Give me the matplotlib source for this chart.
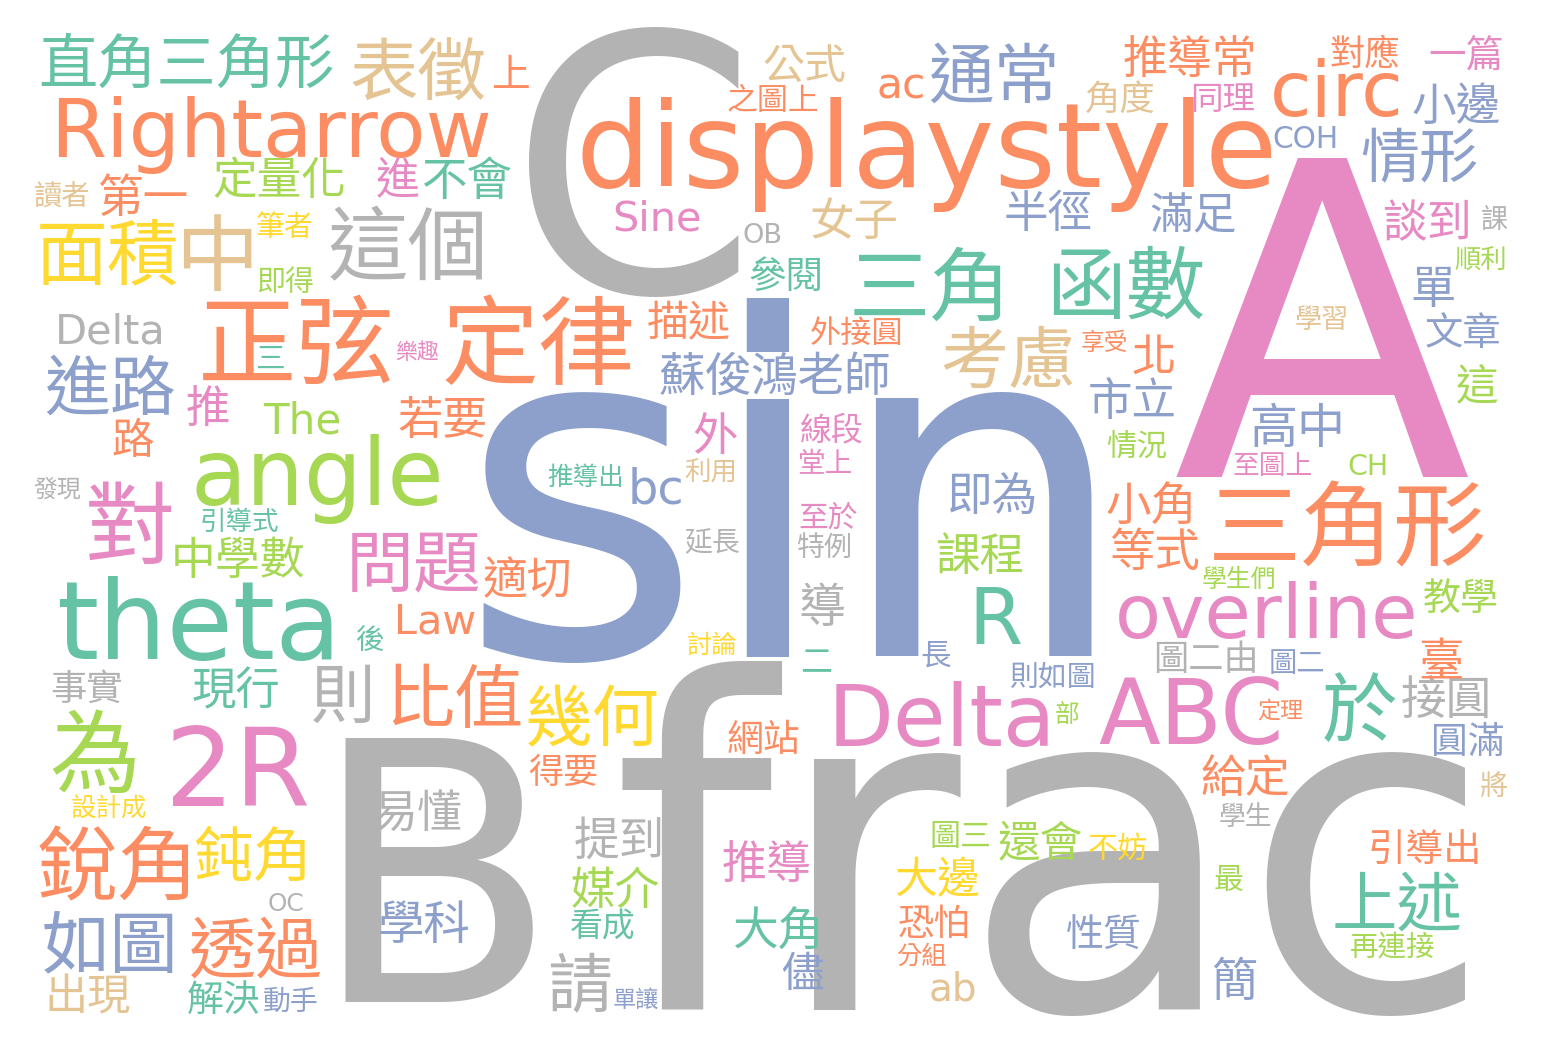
import matplotlib.pyplot as plt
from matplotlib.textpath import TextPath
from matplotlib.font_manager import FontProperties

W, H, DPI = 1548, 1052, 100

# words of the cloud
words = [
    "直角三角形", "表徵", "上", "Rightarrow", "定量化", "進", "不會", "讀者", "第一", "面積",
    "中", "筆者", "即得", "這個", "Delta", "正弦", "定律", "三", "樂趣", "進路",
    "推", "The", "若要", "路", "angle", "發現", "對", "引導式", "中學數", "問題",
    "適切", "theta", "Law", "後", "事實", "現行", "則", "比值", "為", "2R",
    "設計成", "銳角", "鈍角", "OC", "如圖", "透過", "出現", "解決", "動手", "易懂",
    "學科", "B",
    "C", "公式", "ac", "通常", "之圖上", "displaystyle", "Sine", "OB", "女子", "參閱",
    "三角", "函數", "描述", "外接圓", "考慮", "蘇俊鴻老師", "sin", "外", "線段", "堂上",
    "推導出", "利用", "bc", "至於", "延長", "特例", "導", "討論", "二", "長",
    "R", "即為", "課程", "幾何", "網站", "Delta", "得要", "提到", "推導", "圖三",
    "還會", "不妨", "大邊", "媒介", "看成", "大角", "恐怕", "分組", "儘", "請",
    "單讓", "frac", "ab", "則如圖", "部", "ABC", "定理",
    "推導常", "對應", "一篇", "角度", "同理", "circ", "小邊", "COH", "情形", "半徑",
    "滿足", "談到", "課", "順利", "單", "學習", "文章", "享受", "北", "市立",
    "這", "高中", "情況", "至圖上", "CH", "A", "小角", "三角形", "等式", "學生們",
    "教學", "overline", "圖二由", "圖二", "臺", "於", "接圓", "圓滿", "給定", "將",
    "學生", "最", "引導出", "上述", "再連接", "性質", "簡",
]

# Set2 colour index per word (0 teal, 1 orange, 2 blue, 3 pink, 4 green, 5 yellow, 6 tan, 7 grey)
color_idx = [
    0, 6, 1, 1, 4, 3, 0, 6, 1, 5,
    6, 5, 4, 7, 7, 1, 1, 0, 3, 2,
    3, 4, 1, 1, 4, 7, 3, 0, 4, 3,
    1, 0, 1, 0, 7, 0, 7, 1, 4, 3,
    5, 1, 5, 7, 2, 1, 6, 0, 2, 7,
    2, 7,
    7, 6, 1, 2, 1, 1, 3, 7, 6, 0,
    0, 0, 1, 1, 6, 2, 2, 3, 3, 3,
    0, 6, 2, 3, 7, 7, 7, 5, 0, 2,
    0, 2, 4, 5, 1, 3, 1, 7, 3, 4,
    4, 5, 5, 4, 0, 0, 1, 1, 2, 7,
    2, 7, 6, 2, 4, 3, 1,
    1, 1, 3, 6, 3, 1, 2, 2, 2, 2,
    2, 3, 7, 4, 2, 6, 2, 1, 1, 2,
    4, 2, 4, 3, 4, 3, 1, 1, 1, 4,
    4, 3, 7, 2, 1, 0, 7, 2, 1, 6,
    7, 4, 1, 0, 4, 2, 2,
]

# ink box of each word in pixels: (left, top, right, bottom)
boxes = [
    (38, 33, 335, 87), (352, 38, 483, 102), (493, 55, 528, 88), (53, 96, 490, 173),
    (212, 157, 347, 197), (377, 157, 418, 198), (422, 157, 512, 198), (35, 182, 89, 208),
    (100, 173, 188, 215), (43, 217, 173, 287),
    (183, 215, 252, 290), (257, 211, 312, 238), (257, 267, 313, 293), (330, 207, 487, 280),
    (55, 313, 165, 343), (197, 297, 395, 382), (440, 297, 638, 382), (257, 345, 282, 368),
    (395, 341, 440, 360), (45, 355, 175, 415),
    (187, 385, 228, 426), (262, 402, 342, 433), (398, 397, 488, 437), (113, 418, 153, 457),
    (197, 435, 437, 525), (33, 477, 82, 498), (88, 482, 172, 563), (200, 508, 278, 532),
    (172, 537, 305, 577), (350, 533, 477, 593),
    (483, 557, 572, 597), (60, 578, 337, 660), (393, 605, 477, 633), (357, 625, 383, 652),
    (50, 670, 123, 702), (192, 668, 280, 708), (315, 665, 372, 723), (388, 665, 520, 727),
    (53, 710, 137, 792), (168, 727, 307, 805),
    (70, 795, 147, 818), (40, 827, 195, 900), (197, 827, 310, 880), (265, 895, 307, 910),
    (45, 910, 175, 972), (190, 917, 322, 978), (45, 975, 130, 1013), (187, 980, 260, 1013),
    (263, 987, 318, 1012), (372, 790, 462, 830),
    (380, 900, 468, 943), (335, 745, 533, 995),
    (525, 32, 742, 292), (765, 43, 843, 83), (878, 75, 925, 98), (930, 43, 1058, 102),
    (725, 85, 820, 112), (593, 95, 1260, 213), (612, 200, 702, 230), (742, 224, 782, 243),
    (810, 198, 897, 238), (749, 257, 823, 290),
    (853, 248, 1007, 320), (1048, 247, 1203, 318), (645, 302, 733, 338), (810, 317, 903, 345),
    (943, 326, 1073, 388), (660, 352, 890, 395), (490, 298, 1100, 662), (693, 413, 737, 453),
    (800, 413, 863, 442), (797, 450, 853, 473),
    (550, 463, 622, 487), (687, 457, 735, 482), (630, 468, 682, 503), (798, 502, 858, 528),
    (685, 528, 740, 553), (797, 533, 852, 558), (800, 582, 843, 625), (687, 632, 737, 655),
    (802, 650, 830, 672), (922, 640, 950, 667),
    (972, 588, 1018, 643), (947, 473, 1037, 513), (935, 533, 1025, 572), (527, 685, 657, 747),
    (727, 720, 800, 753), (828, 683, 1055, 745), (527, 755, 600, 785), (575, 817, 663, 858),
    (722, 842, 812, 882), (930, 822, 990, 848),
    (997, 822, 1083, 860), (1088, 833, 1148, 860), (893, 858, 982, 895), (570, 867, 660, 907),
    (568, 910, 637, 938), (733, 907, 822, 947), (898, 905, 970, 937), (895, 943, 947, 965),
    (782, 952, 823, 990), (550, 953, 610, 1013),
    (612, 988, 660, 1008), (628, 663, 1478, 1015), (928, 973, 977, 1000), (1010, 662, 1095, 688),
    (1055, 702, 1079, 723), (1095, 679, 1287, 743), (1258, 698, 1303, 719),
    (1123, 37, 1257, 77), (1330, 35, 1400, 67), (1430, 35, 1502, 70), (1085, 80, 1155, 112),
    (1193, 83, 1253, 112), (1270, 60, 1403, 115), (1413, 82, 1500, 123), (1272, 127, 1338, 148),
    (1362, 128, 1477, 183), (1005, 190, 1092, 230),
    (1150, 193, 1237, 232), (1383, 200, 1470, 240), (1482, 205, 1507, 230), (1455, 247, 1507, 270),
    (1413, 267, 1453, 307), (1297, 305, 1347, 330), (1427, 312, 1500, 348), (1082, 330, 1127, 352),
    (1133, 335, 1175, 373), (1090, 377, 1175, 418),
    (1457, 363, 1498, 402), (1253, 403, 1342, 447), (1107, 430, 1167, 458), (1230, 453, 1315, 475),
    (1348, 455, 1388, 475), (1177, 158, 1467, 478), (1108, 482, 1195, 523), (1210, 482, 1485, 567),
    (1110, 528, 1198, 570), (1200, 567, 1278, 588),
    (1423, 578, 1498, 612), (1113, 582, 1420, 638), (1153, 642, 1260, 672), (1268, 650, 1325, 673),
    (1420, 638, 1462, 677), (1323, 673, 1397, 740), (1403, 676, 1490, 718), (1432, 723, 1503, 756),
    (1200, 755, 1290, 795), (1480, 773, 1507, 798),
    (1220, 802, 1270, 827), (1215, 865, 1242, 892), (1368, 830, 1482, 863), (1332, 872, 1462, 930),
    (1350, 932, 1435, 958), (1067, 915, 1140, 950), (1213, 957, 1255, 1000),
]

palette = plt.get_cmap("Set2").colors
latin_font = FontProperties(family="DejaVu Sans")
cjk_font = FontProperties(family="Noto Sans CJK TC")

fig = plt.figure(figsize=(W / DPI, H / DPI), dpi=DPI, facecolor="white")
ax = fig.add_axes([0, 0, 1, 1])
ax.set_xlim(0, W)
ax.set_ylim(H, 0)
ax.axis("off")

for word, ci, (x0, y0, x1, y1) in zip(words, color_idx, boxes):
    prop = latin_font if word.isascii() else cjk_font
    # ink extents of the word at em = 100
    ext = TextPath((0, 0), word, size=100, prop=prop).get_extents()
    # px per path unit: compromise between fitting the width and the height
    s = ((x1 - x0) / ext.width * (y1 - y0) / ext.height) ** 0.5
    baseline = (y0 + y1) / 2 + (ext.y0 + ext.y1) / 2 * s
    # small words on top so they stay readable inside the big letters
    ax.text((x0 + x1) / 2, baseline, word, fontproperties=prop,
            fontsize=100 * s * 72 / DPI, color=palette[ci],
            ha="center", va="baseline", zorder=1000 - s * 100)

fig.savefig("out.png", dpi=DPI, facecolor="white")
